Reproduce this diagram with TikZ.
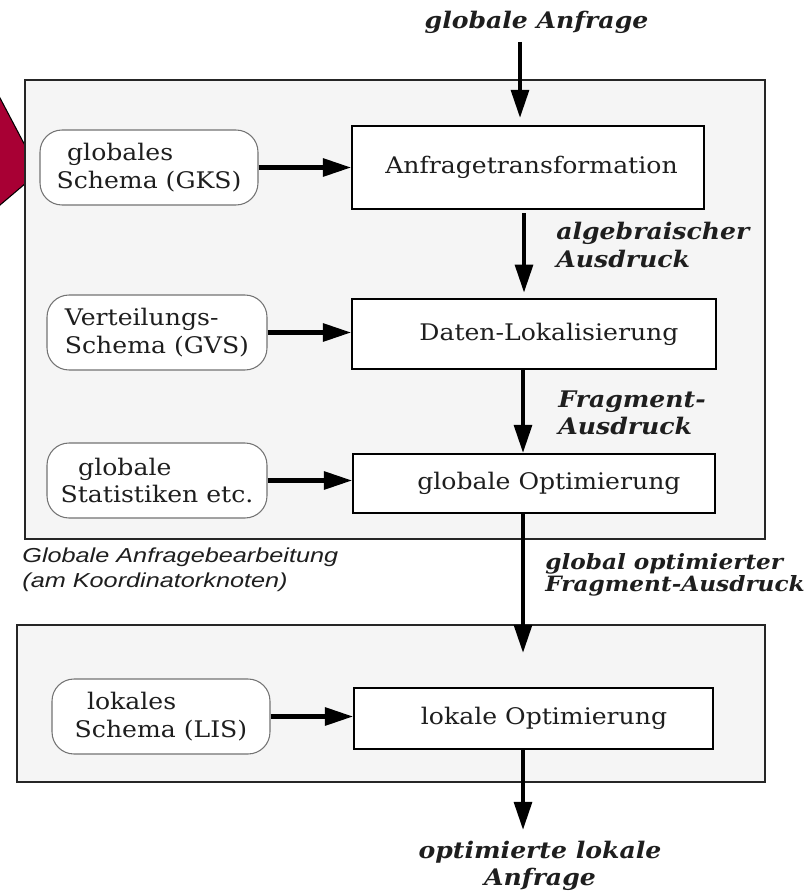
\documentclass[tikz,border=0pt]{standalone}
\usepackage{fontspec}
\setmainfont{DejaVu Serif}[FakeStretch=1.1]
\newfontfamily\capfont{Liberation Sans}[FakeStretch=1.25]
\usetikzlibrary{arrows.meta}
\definecolor{crim}{RGB}{168,0,52}
\definecolor{panelgray}{RGB}{245,245,245}
\definecolor{ink}{RGB}{30,30,30}
\begin{document}
\begin{tikzpicture}[x=0.02cm,y=-0.02cm,
  panel/.style={draw=black!85, line width=1.2pt, fill=panelgray, inner sep=0pt},
  proc/.style={draw=black, line width=1.1pt, fill=white, inner sep=0pt, text=ink,
    font=\fontsize{13}{15.6}\selectfont},
  store/.style={draw=black!55, line width=0.6pt, rounded corners=0.44cm, fill=white,
    inner sep=0pt, align=left, text=ink, minimum height=1.5cm,
    font=\fontsize{13}{15.6}\selectfont},
  flow/.style={line width=2.4pt, -{Triangle[length=16pt,width=10pt]}},
  lab/.style={inner sep=0pt, text=ink, font=\fontsize{13}{15.6}\selectfont\bfseries\itshape},
  captext/.style={inner sep=0pt, align=left, text=ink, font=\capfont\itshape\fontsize{11.5}{14.2}\selectfont}
]
\useasboundingbox (0,0) rectangle (805,892);

% red triangle on the left edge
\fill[crim, draw=black, line width=0.6pt] (-10,79) -- (39,172) -- (-10,213.5) -- cycle;

% panels
\node[panel, minimum width=14.8cm, minimum height=9.18cm] (p1) at (395,309.5) {};
\node[panel, minimum width=14.96cm, minimum height=3.14cm] (p2) at (391,703.5) {};

% process boxes
\node[proc, minimum width=7.04cm, minimum height=1.66cm] (trans) at (528,167.5) {\hspace*{4pt}Anfragetransformation};
\node[proc, minimum width=7.28cm, minimum height=1.4cm] (dat) at (534,334) {\hspace*{17pt}Daten-Lokalisierung};
\node[proc, minimum width=7.24cm, minimum height=1.18cm] (gopt) at (534,483.5) {\hspace*{17pt}globale Optimierung};
\node[proc, minimum width=7.18cm, minimum height=1.22cm] (lopt) at (533.5,718.5) {\hspace*{12pt}lokale Optimierung};

% schema stores
\node[store, minimum width=4.36cm] (gks) at (149,167.5) {\hspace*{6pt}globales\\Schema (GKS)};
\node[store, minimum width=4.4cm] (gvs) at (157,332.5) {Verteilungs-\\Schema (GVS)};
\node[store, minimum width=4.4cm] (gst) at (157,480.5) {\hspace*{10pt}globale\\Statistiken etc.};
\node[store, minimum width=4.36cm] (lis) at (161,716.5) {\hspace*{7pt}lokales\\Schema (LIS)};

% free ends
\coordinate (in) at (520,42);
\coordinate (mid) at (523,653);
\coordinate (out) at (523,830);

% vertical flow
\draw[flow, shorten >=4pt] (in) -- (in |- trans.north);
\draw[flow, shorten <=2pt, shorten >=3pt] (trans.south -| 524,0) -- (dat.north -| 524,0);
\draw[flow] (dat.south -| 523,0) -- (gopt.north -| 523,0);
\draw[flow] (gopt.south -| mid) -- (mid);
\draw[flow] (lopt.south -| out) -- (out);

% horizontal inputs
\draw[flow] (gks.east) -- (gks.east -| trans.west);
\draw[flow] (gvs.east) -- (gvs.east -| dat.west);
\draw[flow] (gst.east) -- (gst.east -| gopt.west);
\draw[flow] (lis.east) -- (lis.east -| lopt.west);

% labels
\node[lab] (l0) at (536.5,22) {globale Anfrage};
\node[lab, anchor=west, align=left] (l1) at (556,245) {algebraischer\\Ausdruck};
\node[lab, anchor=west, align=left] (l2) at (558,413) {Fragment-\\Ausdruck};
\node[lab, anchor=west, align=left, font=\fontsize{12}{11.5}\selectfont\bfseries\itshape] (l3) at (545,575) {global optimierter\\Fragment-Ausdruck};
\node[lab, align=center] (l4) at (540,866) {optimierte lokale\\Anfrage};
\node[captext, anchor=west] (c1) at (22,570) {Globale Anfragebearbeitung\\(am Koordinatorknoten)};
\end{tikzpicture}
\end{document}
